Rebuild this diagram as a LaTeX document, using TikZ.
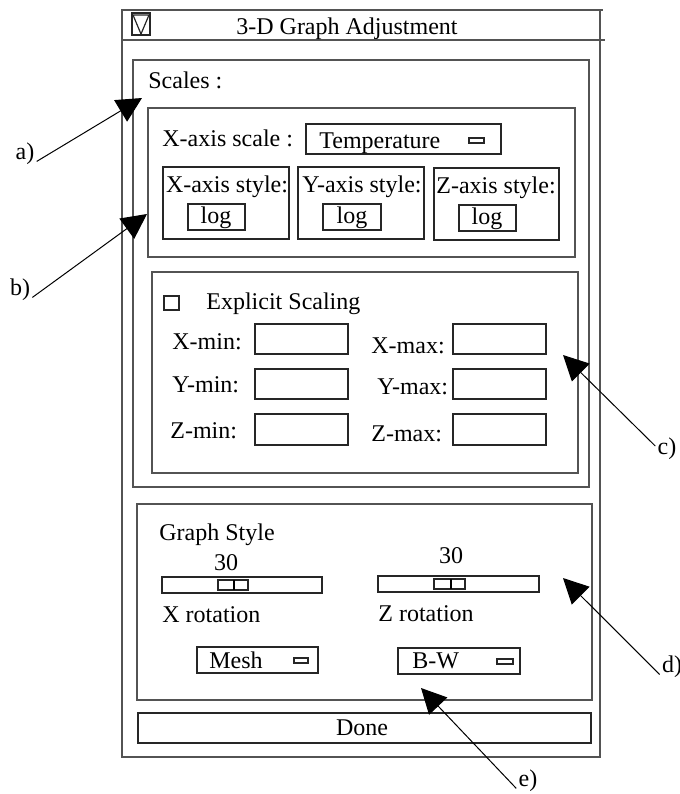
\documentclass[tikz,border=0pt]{standalone}
\usepackage{fontspec}
\setmainfont{Liberation Serif}
\usetikzlibrary{arrows.meta}

\begin{document}
\begin{tikzpicture}
  [ x=0.5pt, y=-0.5pt
  , every node/.style={inner sep=0pt, text height=8pt, text depth=0pt, font=\fontsize{12pt}{14pt}\selectfont}
  , panel/.style={draw=gray!65!black, line width=0.8pt}
  , box/.style={draw=black!85, line width=0.6pt}
  , callout/.style={inner sep=1pt}
  , >={Triangle[length=12.5pt, width=12.5pt]}]
  \useasboundingbox (0,0) rectangle (680,794);
  \draw [panel] (122,10) rectangle (600,757);
  \draw [panel] (122,10) -- (603,10);
  \draw [panel] (122,40) -- (605,40);
  \draw [box] (132,13) rectangle (150,35);
  \draw [box] (133,15) -- (149,15) -- (141,34) -- cycle;
  \node (title) at (347,26) {3-D Graph Adjustment};
  \draw [panel] (133,60) rectangle (589,487);
  \node (scales) at (148,80) [anchor=west] {Scales :};
  \draw [panel] (148,108) rectangle (575,257);
  \node (xscale) at (162,138) [anchor=west] {X-axis scale :};
  \draw [box] (306,124) rectangle (501,154);
  \node (temp) at (319,140) [anchor=west] {Temperature};
  \draw [box] (469,138) rectangle (484,143);
  \draw [box] (163,167) rectangle (289,239);
  \draw [box] (298,167) rectangle (424,239);
  \draw [box] (434,168) rectangle (559,240);
  \node (xstyle) at (227,184) {X-axis style:};
  \node (ystyle) at (362,184) {Y-axis style:};
  \node (zstyle) at (496,185) {Z-axis style:};
  \draw [box] (188,204) rectangle (245,230);
  \draw [box] (323,204) rectangle (381,230);
  \draw [box] (459,205) rectangle (516,231);
  \node (xlog) at (216,215) {log};
  \node (ylog) at (352,215) {log};
  \node (zlog) at (487,216) {log};
  \draw [panel] (152,272) rectangle (578,473);
  \draw [box] (164,296) rectangle (179,310);
  \node (explicit) at (206,301) [anchor=west] {Explicit Scaling};
  \node (xmin) at (172,341) [anchor=west] {X-min:};
  \node (ymin) at (172,384) [anchor=west] {Y-min:};
  \node (zmin) at (170,430) [anchor=west] {Z-min:};
  \node (xmax) at (371,345) [anchor=west] {X-max:};
  \node (ymax) at (377,386) [anchor=west] {Y-max:};
  \node (zmax) at (371,433) [anchor=west] {Z-max:};
  \draw [box] (255,324) rectangle (348,354);
  \draw [box] (255,369) rectangle (348,399);
  \draw [box] (255,414) rectangle (348,445);
  \draw [box] (453,324) rectangle (546,354);
  \draw [box] (453,369) rectangle (546,399);
  \draw [box] (453,414) rectangle (546,445);
  \draw [panel] (137,504) rectangle (592,700);
  \node (graphstyle) at (159,532) [anchor=west] {Graph Style};
  \node (xangle) at (226,562) {30};
  \node (zangle) at (451,555) {30};
  \draw [box] (162,577) rectangle (322,593);
  \draw [box] (218,580) rectangle (248,590);
  \draw [line width=1pt] (234,580) -- (234,590);
  \draw [box] (378,576) rectangle (539,592);
  \draw [box] (434,579) rectangle (465,589);
  \draw [line width=1pt] (451,579) -- (451,589);
  \node (xrot) at (162,614) [anchor=west] {X rotation};
  \node (zrot) at (378,613) [anchor=west] {Z rotation};
  \draw [box] (197,647) rectangle (318,673);
  \node (mesh) at (209,660) [anchor=west] {Mesh};
  \draw [box] (294,658) rectangle (308,663);
  \draw [box] (398,648) rectangle (520,674);
  \node (bw) at (412,660) [anchor=west] {B-W};
  \draw [box] (497,659) rectangle (513,664);
  \draw [box] (138,713) rectangle (591,743);
  \node (done) at (362,727) {Done};
  \node (a) at (25,151) [callout] {a)};
  \node (b) at (20,287) [callout] {b)};
  \node (c) at (667,446) [callout] {c)};
  \node (d) at (672,664) [callout] {d)};
  \node (e) at (528,778) [callout] {e)};
  \coordinate (atip) at (142,98);
  \coordinate (btip) at (147,214);
  \coordinate (ctip) at (563,355);
  \coordinate (dtip) at (563,578);
  \coordinate (etip) at (421,688);
  \draw [->, line width=0.5pt] (a.south east) -- (atip);
  \draw [->, line width=0.5pt] (b.south east) -- (btip);
  \draw [->, line width=0.5pt] (c.west) -- (ctip);
  \draw [->, line width=0.5pt] (d.south west) -- (dtip);
  \draw [->, line width=0.5pt] (e.south west) -- (etip);
\end{tikzpicture}
\end{document}
